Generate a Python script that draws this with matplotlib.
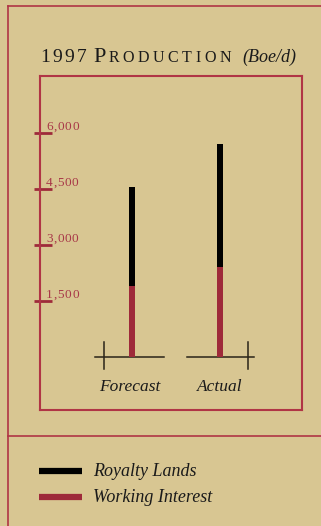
import matplotlib
matplotlib.use('Agg')
import matplotlib.pyplot as plt
from matplotlib.transforms import IdentityTransform, blended_transform_factory

# data
categories = ['Forecast', 'Actual']
working_interest = [1900, 2400]
royalty_lands = [2650, 3300]
yticks = [1500, 3000, 4500, 6000]
ytick_labels = ['1,500', '3,000', '4,500', '6,000']

bg = '#D8C692'
red = '#9E2A3A'
frame_red = '#B03545'
W, H = 321, 526

plt.rcParams['font.family'] = 'Liberation Serif'

fig = plt.figure(figsize=(W / 100, H / 100), dpi=100, facecolor=bg)
renderer = fig.canvas.get_renderer()

# outer frame (pixel coords, y from top)
def fig_line(x0, y0, x1, y1, **kw):
    fig.add_artist(plt.Line2D([x0 / W, x1 / W], [1 - y0 / H, 1 - y1 / H],
                              transform=fig.transFigure, **kw))

# text drawn char by char with extra letter spacing (display pixels, y from bottom)
def tracked(x, y, s, size, track, color='#1a1a1a', **kw):
    for ch in s:
        t = fig.text(x, y, ch, transform=IdentityTransform(), fontsize=size,
                     va='baseline', ha='left', color=color, **kw)
        x += t.get_window_extent(renderer).width + track
    return x

fig_line(8, 6, W, 6, color=frame_red, lw=1.2)
fig_line(8, 6, 8, H, color=frame_red, lw=1.2)
fig_line(8, 436, W, 436, color=frame_red, lw=1.2)

# chart area = inner box
ax = fig.add_axes([40 / W, (H - 410) / H, 262 / W, 334 / H])
ax.set_facecolor(bg)
px = 1500 / 56.0  # data units per pixel vertically
ax.set_ylim(-53 * px, 281 * px)
ax.set_xlim(-92 / 88, 170 / 88)
for s in ax.spines.values():
    s.set_color(frame_red)
    s.set_linewidth(1.5)
ax.set_xticks([])
ax.set_yticks([])

xs = range(len(categories))
ax.bar(xs, working_interest, width=0.07, color=red, zorder=3)
ax.bar(xs, royalty_lands, bottom=working_interest, width=0.07, color='black', zorder=3)

# y ticks drawn across the spine
tr = blended_transform_factory(ax.transAxes, ax.transData)
for v, lab in zip(yticks, ytick_labels):
    ax.plot([-6 / 262, 12 / 262], [v, v], color=red, lw=2, transform=tr,
            clip_on=False, solid_capstyle='butt')
    dx, dy = tr.transform((6 / 262, v))
    tracked(dx, dy + 3, lab, 9.5, 0.7, color='#A83848')

# baselines with small tick marks
offsets = [(-0.42, 0.36, -0.32), (-0.375, 0.386, 0.32)]
for i, (a, b, t) in enumerate(offsets):
    ax.plot([i + a, i + b], [0, 0], color='#2a2418', lw=1.1, zorder=2)
    ax.plot([i + t, i + t], [15 * px, -12 * px], color='#2a2418', lw=1.1, zorder=2)
    ax.text(i - 0.02 if i == 0 else i, -30 * px, categories[i], style='italic',
            fontsize=12.5, ha='center', va='center', color='#1a1a1a')

# title with tracked small caps
x = tracked(40, H - 62, '1997', 14, 2.4)
x += 5
x = tracked(x, H - 62, 'P', 16, 2.0)
x = tracked(x, H - 62, 'RODUCTION', 11.5, 3.6)
x += 8
fig.text(x, H - 62, '(Boe/d)', transform=IdentityTransform(), fontsize=13,
         style='italic', va='baseline', ha='left', color='#1a1a1a')

# legend
legend_items = [('Royalty Lands', 'black'), ('Working Interest', red)]
for k, (lab, c) in enumerate(legend_items):
    y = 471 + 26 * k
    fig_line(39, y, 82, y, color=c, lw=4.5, solid_capstyle='butt')
    fig.text(93 / W, 1 - y / H, lab, style='italic', fontsize=13,
             va='center', ha='left', color='#1a1a1a')

fig.savefig('out.png', dpi=100, facecolor=bg)
